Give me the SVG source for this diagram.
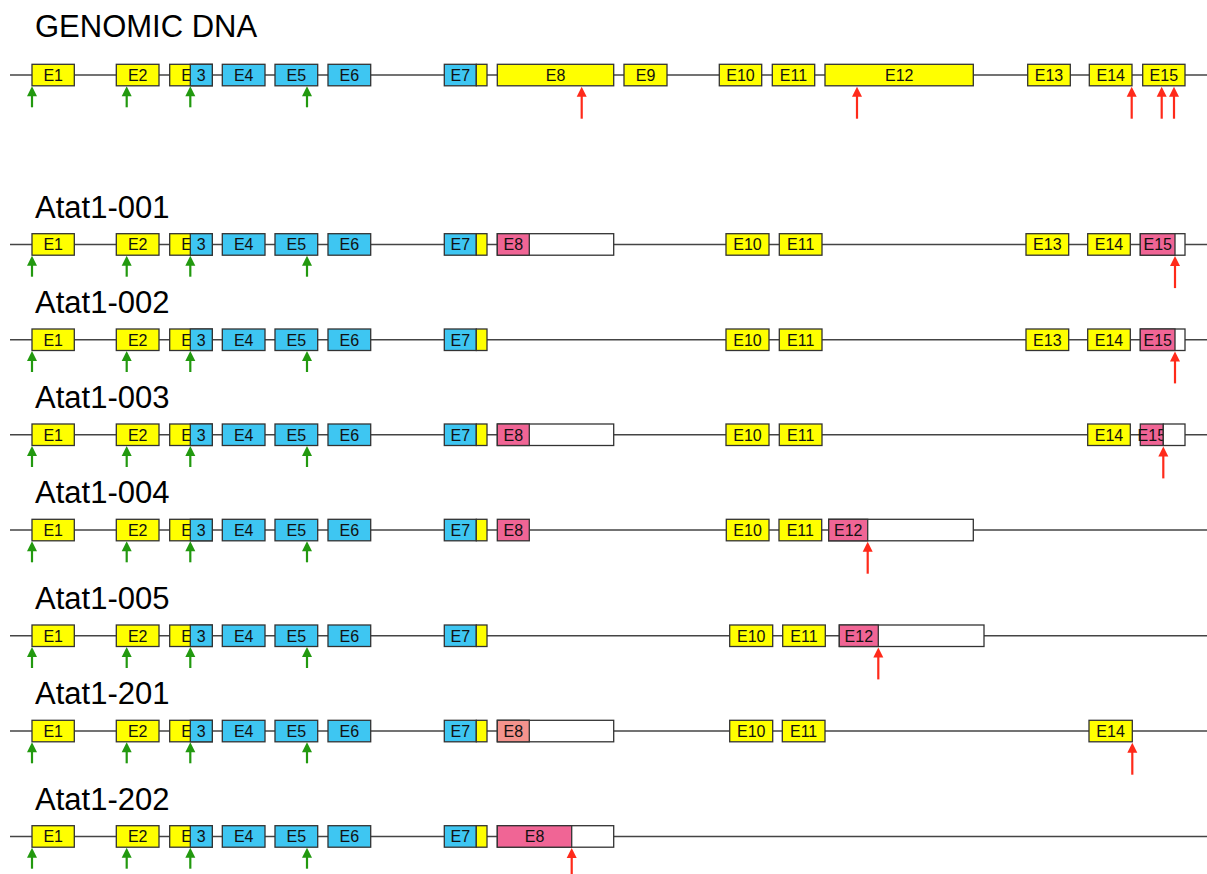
<svg xmlns="http://www.w3.org/2000/svg" xmlns:xlink="http://www.w3.org/1999/xlink" width="1207" height="874" viewBox="0 0 1207 874">
  <style>
    .title { font-family: "Liberation Sans", Arial, sans-serif; font-size: 31px; fill: #000; }
    .lbl { font-family: "Liberation Sans", Arial, sans-serif; font-size: 16px; fill: #111; text-anchor: middle; }
    .intron { stroke: #444; stroke-width: 1.4; fill: none; }
    .ex { stroke: #333; stroke-width: 1.3; }
    .y { fill: #ffff00; }
    .b { fill: #3ec6f2; }
    .p { fill: #f06595; }
    .s { fill: #f4938d; }
    .w { fill: #ffffff; }
  </style>
  <defs>
    <!-- arrow tips sit at the origin, pointing up -->
    <g id="arrow-start">
      <line x1="0" y1="8" x2="0" y2="21" stroke="#22990f" stroke-width="2.2"/>
      <polygon points="0,0 -5,10 5,10" fill="#22990f"/>
    </g>
    <g id="arrow-stop">
      <line x1="0" y1="8" x2="0" y2="32" stroke="#ff2a1a" stroke-width="2.2"/>
      <polygon points="0,0 -5,10 5,10" fill="#ff2a1a"/>
    </g>
    <!-- exons 1-7, shared by every track -->
    <g id="head-exons">
      <g id="e1"><rect class="ex y" x="32" y="0" width="42.3" height="21.5"/><text class="lbl" x="53.2" y="16.8">E1</text></g>
      <g id="e2"><rect class="ex y" x="116.3" y="0" width="42.7" height="21.5"/><text class="lbl" x="137.7" y="16.8">E2</text></g>
      <g id="e3">
        <rect class="ex y" x="169.7" y="0" width="42.6" height="21.5"/><text class="lbl" x="191" y="16.8">E3</text>
        <rect class="ex b" x="190.3" y="0" width="22" height="21.5"/><text class="lbl" x="201.3" y="16.8">3</text>
      </g>
      <g id="e4"><rect class="ex b" x="222.3" y="0" width="42.7" height="21.5"/><text class="lbl" x="243.7" y="16.8">E4</text></g>
      <g id="e5"><rect class="ex b" x="275" y="0" width="42.7" height="21.5"/><text class="lbl" x="296.3" y="16.8">E5</text></g>
      <g id="e6"><rect class="ex b" x="328" y="0" width="42.7" height="21.5"/><text class="lbl" x="349.3" y="16.8">E6</text></g>
      <g id="e7">
        <rect class="ex b" x="444.3" y="0" width="32" height="21.5"/><text class="lbl" x="460.3" y="16.8">E7</text>
        <rect class="ex y" x="476.3" y="0" width="10.7" height="21.5"/>
      </g>
      <use xlink:href="#arrow-start" x="32" y="22"/>
      <use xlink:href="#arrow-start" x="126.7" y="22"/>
      <use xlink:href="#arrow-start" x="190.3" y="22"/>
      <use xlink:href="#arrow-start" x="307" y="22"/>
    </g>
  </defs>

  <!-- track titles -->
  <text class="title" x="35" y="37.3">GENOMIC DNA</text>
  <text class="title" x="35" y="217.7">Atat1-001</text>
  <text class="title" x="35" y="313">Atat1-002</text>
  <text class="title" x="35" y="408">Atat1-003</text>
  <text class="title" x="35" y="503.3">Atat1-004</text>
  <text class="title" x="35" y="609">Atat1-005</text>
  <text class="title" x="35" y="704.3">Atat1-201</text>
  <text class="title" x="35" y="809.7">Atat1-202</text>

  <!-- intron backbones -->
  <g id="connectors">
    <line class="intron" x1="10" y1="75.05" x2="1207" y2="75.05"/>
    <line class="intron" x1="10" y1="244.45" x2="1207" y2="244.45"/>
    <line class="intron" x1="10" y1="339.75" x2="1207" y2="339.75"/>
    <line class="intron" x1="10" y1="434.75" x2="1207" y2="434.75"/>
    <line class="intron" x1="10" y1="530.05" x2="1207" y2="530.05"/>
    <line class="intron" x1="10" y1="635.75" x2="1207" y2="635.75"/>
    <line class="intron" x1="10" y1="731.05" x2="1207" y2="731.05"/>
    <line class="intron" x1="10" y1="836.45" x2="1207" y2="836.45"/>
  </g>

  <!-- genomic DNA -->
  <g id="track-genomic" transform="translate(0,64.3)">
    <use xlink:href="#head-exons"/>
    <g id="g-e8"><rect class="ex y" x="497.3" y="0" width="116.4" height="21.5"/><text class="lbl" x="555.5" y="16.8">E8</text></g>
    <g id="g-e9"><rect class="ex y" x="624" y="0" width="43" height="21.5"/><text class="lbl" x="645.5" y="16.8">E9</text></g>
    <g id="g-e10"><rect class="ex y" x="719.3" y="0" width="42.4" height="21.5"/><text class="lbl" x="740.5" y="16.8">E10</text></g>
    <g id="g-e11"><rect class="ex y" x="772.3" y="0" width="42.4" height="21.5"/><text class="lbl" x="793.5" y="16.8">E11</text></g>
    <g id="g-e12"><rect class="ex y" x="825" y="0" width="148.3" height="21.5"/><text class="lbl" x="899.2" y="16.8">E12</text></g>
    <g id="g-e13"><rect class="ex y" x="1027.7" y="0" width="42.6" height="21.5"/><text class="lbl" x="1049" y="16.8">E13</text></g>
    <g id="g-e14"><rect class="ex y" x="1089.3" y="0" width="42.7" height="21.5"/><text class="lbl" x="1110.7" y="16.8">E14</text></g>
    <g id="g-e15"><rect class="ex y" x="1142.7" y="0" width="42.3" height="21.5"/><text class="lbl" x="1163.8" y="16.8">E15</text></g>
    <use xlink:href="#arrow-stop" x="581.7" y="22.4"/>
    <use xlink:href="#arrow-stop" x="857" y="22.4"/>
    <use xlink:href="#arrow-stop" x="1131.7" y="22.4"/>
    <use xlink:href="#arrow-stop" x="1161.7" y="22.4"/>
    <use xlink:href="#arrow-stop" x="1174" y="22.4"/>
  </g>

  <!-- Atat1-001 -->
  <g id="track-001" transform="translate(0,233.7)">
    <use xlink:href="#head-exons"/>
    <g id="t001-e8"><rect class="ex w" x="497.3" y="0" width="116.4" height="21.5"/><rect class="ex p" x="497.3" y="0" width="32" height="21.5"/><text class="lbl" x="513.3" y="16.8">E8</text></g>
    <g id="t001-e10"><rect class="ex y" x="726" y="0" width="43" height="21.5"/><text class="lbl" x="747.5" y="16.8">E10</text></g>
    <g id="t001-e11"><rect class="ex y" x="779.3" y="0" width="42.7" height="21.5"/><text class="lbl" x="800.7" y="16.8">E11</text></g>
    <g id="t001-e13"><rect class="ex y" x="1026" y="0" width="42.7" height="21.5"/><text class="lbl" x="1047.3" y="16.8">E13</text></g>
    <g id="t001-e14"><rect class="ex y" x="1087.7" y="0" width="42.6" height="21.5"/><text class="lbl" x="1109" y="16.8">E14</text></g>
    <g id="t001-e15"><rect class="ex w" x="1140.3" y="0" width="44.7" height="21.5"/><rect class="ex p" x="1140.3" y="0" width="34.7" height="21.5"/><text class="lbl" x="1157.7" y="16.8">E15</text></g>
    <use xlink:href="#arrow-stop" x="1175" y="22.4"/>
  </g>

  <!-- Atat1-002 -->
  <g id="track-002" transform="translate(0,329)">
    <use xlink:href="#head-exons"/>
    <g id="t002-e10"><rect class="ex y" x="726" y="0" width="43" height="21.5"/><text class="lbl" x="747.5" y="16.8">E10</text></g>
    <g id="t002-e11"><rect class="ex y" x="779.3" y="0" width="42.7" height="21.5"/><text class="lbl" x="800.7" y="16.8">E11</text></g>
    <g id="t002-e13"><rect class="ex y" x="1026" y="0" width="42.7" height="21.5"/><text class="lbl" x="1047.3" y="16.8">E13</text></g>
    <g id="t002-e14"><rect class="ex y" x="1087.7" y="0" width="42.6" height="21.5"/><text class="lbl" x="1109" y="16.8">E14</text></g>
    <g id="t002-e15"><rect class="ex w" x="1140.3" y="0" width="44.7" height="21.5"/><rect class="ex p" x="1140.3" y="0" width="34.7" height="21.5"/><text class="lbl" x="1157.7" y="16.8">E15</text></g>
    <use xlink:href="#arrow-stop" x="1175" y="22.4"/>
  </g>

  <!-- Atat1-003 -->
  <g id="track-003" transform="translate(0,424)">
    <use xlink:href="#head-exons"/>
    <g id="t003-e8"><rect class="ex w" x="497.3" y="0" width="116.4" height="21.5"/><rect class="ex p" x="497.3" y="0" width="32" height="21.5"/><text class="lbl" x="513.3" y="16.8">E8</text></g>
    <g id="t003-e10"><rect class="ex y" x="726" y="0" width="43" height="21.5"/><text class="lbl" x="747.5" y="16.8">E10</text></g>
    <g id="t003-e11"><rect class="ex y" x="779.3" y="0" width="42.7" height="21.5"/><text class="lbl" x="800.7" y="16.8">E11</text></g>
    <g id="t003-e14"><rect class="ex y" x="1087.7" y="0" width="42.6" height="21.5"/><text class="lbl" x="1109" y="16.8">E14</text></g>
    <g id="t003-e15"><rect class="ex p" x="1140.3" y="0" width="23" height="21.5"/><text class="lbl" x="1151.8" y="16.8">E15</text><rect class="ex w" x="1163.3" y="0" width="21.7" height="21.5"/></g>
    <use xlink:href="#arrow-stop" x="1163.3" y="22.4"/>
  </g>

  <!-- Atat1-004 -->
  <g id="track-004" transform="translate(0,519.3)">
    <use xlink:href="#head-exons"/>
    <g id="t004-e8"><rect class="ex p" x="497.3" y="0" width="32" height="21.5"/><text class="lbl" x="513.3" y="16.8">E8</text></g>
    <g id="t004-e10"><rect class="ex y" x="726.3" y="0" width="42.7" height="21.5"/><text class="lbl" x="747.6" y="16.8">E10</text></g>
    <g id="t004-e11"><rect class="ex y" x="779" y="0" width="42.7" height="21.5"/><text class="lbl" x="800.3" y="16.8">E11</text></g>
    <g id="t004-e12"><rect class="ex w" x="828.7" y="0" width="144.6" height="21.5"/><rect class="ex p" x="828.7" y="0" width="39" height="21.5"/><text class="lbl" x="848.2" y="16.8">E12</text></g>
    <use xlink:href="#arrow-stop" x="867.7" y="22.4"/>
  </g>

  <!-- Atat1-005 -->
  <g id="track-005" transform="translate(0,625)">
    <use xlink:href="#head-exons"/>
    <g id="t005-e10"><rect class="ex y" x="729.7" y="0" width="43" height="21.5"/><text class="lbl" x="751.2" y="16.8">E10</text></g>
    <g id="t005-e11"><rect class="ex y" x="782.7" y="0" width="42.6" height="21.5"/><text class="lbl" x="804" y="16.8">E11</text></g>
    <g id="t005-e12"><rect class="ex w" x="839.3" y="0" width="144.7" height="21.5"/><rect class="ex p" x="839.3" y="0" width="39" height="21.5"/><text class="lbl" x="858.8" y="16.8">E12</text></g>
    <use xlink:href="#arrow-stop" x="878.3" y="22.4"/>
  </g>

  <!-- Atat1-201 -->
  <g id="track-201" transform="translate(0,720.3)">
    <use xlink:href="#head-exons"/>
    <g id="t201-e8"><rect class="ex w" x="497.3" y="0" width="116.4" height="21.5"/><rect class="ex s" x="497.3" y="0" width="32" height="21.5"/><text class="lbl" x="513.3" y="16.8">E8</text></g>
    <g id="t201-e10"><rect class="ex y" x="729.7" y="0" width="43" height="21.5"/><text class="lbl" x="751.2" y="16.8">E10</text></g>
    <g id="t201-e11"><rect class="ex y" x="782.3" y="0" width="42.7" height="21.5"/><text class="lbl" x="803.6" y="16.8">E11</text></g>
    <g id="t201-e14"><rect class="ex y" x="1089" y="0" width="43.3" height="21.5"/><text class="lbl" x="1110.6" y="16.8">E14</text></g>
    <use xlink:href="#arrow-stop" x="1132.3" y="22.4"/>
  </g>

  <!-- Atat1-202 -->
  <g id="track-202" transform="translate(0,825.7)">
    <use xlink:href="#head-exons"/>
    <g id="t202-e8"><rect class="ex w" x="497.3" y="0" width="116.4" height="21.5"/><rect class="ex p" x="497.3" y="0" width="74.4" height="21.5"/><text class="lbl" x="534.5" y="16.8">E8</text></g>
    <use xlink:href="#arrow-stop" x="571.7" y="22.4"/>
  </g>
</svg>
